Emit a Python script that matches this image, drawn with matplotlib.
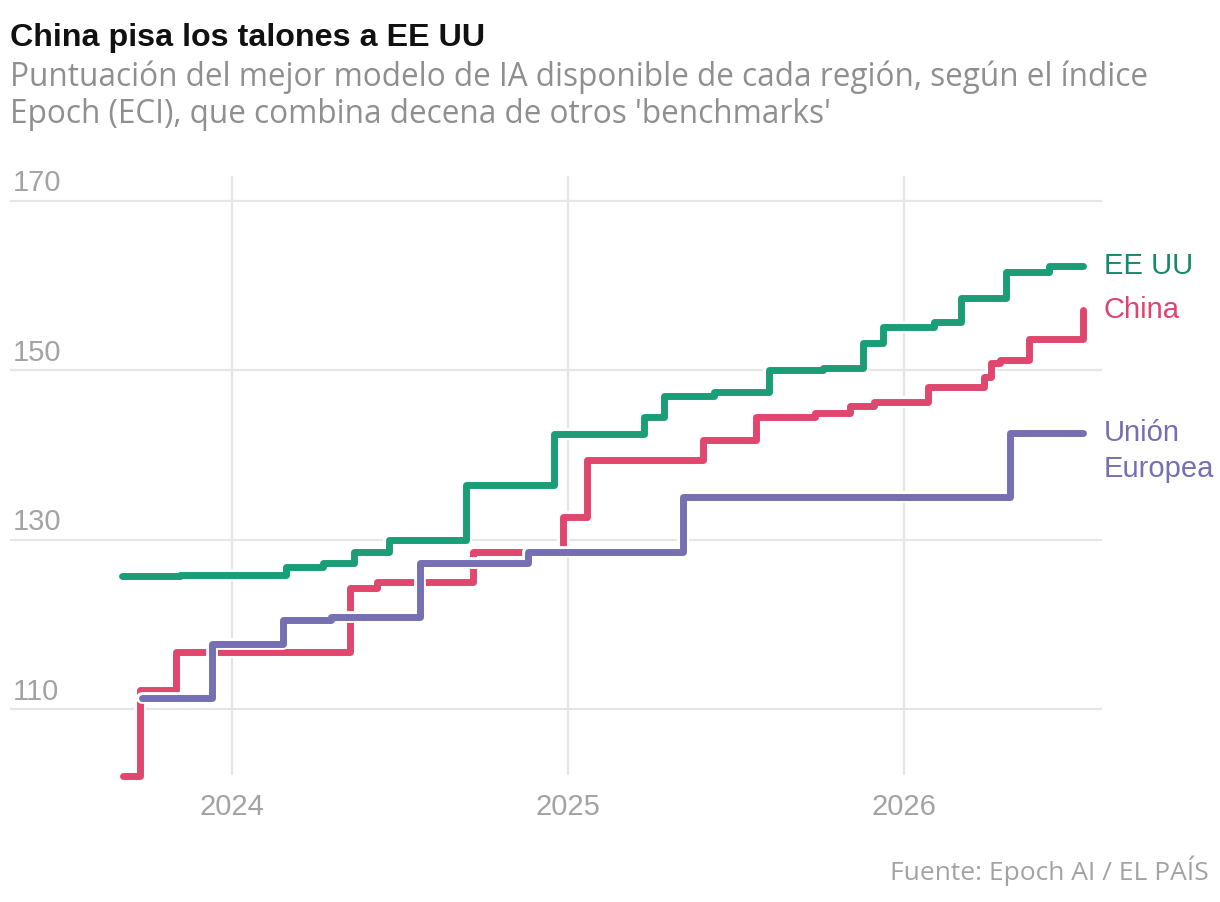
import matplotlib
matplotlib.use('Agg')
import matplotlib.pyplot as plt
import matplotlib.patheffects as pe
import pandas as pd

# ---- data ----
us_dates = ['2023-09-03', '2023-11-05', '2024-02-28', '2024-04-09', '2024-05-13',
            '2024-06-20', '2024-09-11', '2024-12-16', '2025-03-24', '2025-04-15',
            '2025-06-09', '2025-08-07', '2025-10-05', '2025-11-18', '2025-12-10',
            '2026-02-03', '2026-03-04', '2026-04-22', '2026-06-08', '2026-07-15']
us_eci = [125.8, 125.9, 126.8, 127.3, 128.6, 130.0, 136.5, 142.5, 144.5, 147.0,
          147.5, 150.0, 150.3, 153.2, 155.1, 155.7, 158.6, 161.6, 162.3, 162.3]

cn_dates = ['2023-09-04', '2023-09-23', '2023-11-01', '2024-05-08', '2024-06-07',
            '2024-09-19', '2024-12-26', '2025-01-21', '2025-05-28', '2025-07-24',
            '2025-09-27', '2025-11-04', '2025-11-30', '2026-01-28', '2026-03-29',
            '2026-04-06', '2026-04-16', '2026-05-17', '2026-07-15']
cn_eci = [102.1, 112.3, 116.8, 124.3, 125.0, 128.6, 132.7, 139.4, 141.8, 144.5,
          145.0, 145.8, 146.3, 148.1, 149.2, 150.9, 151.2, 153.7, 157.1]

eu_dates = ['2023-09-25', '2023-12-10', '2024-02-25', '2024-04-17', '2024-07-23',
            '2024-11-18', '2025-05-06', '2026-04-27', '2026-07-15']
eu_eci = [111.4, 117.7, 120.6, 120.9, 127.3, 128.6, 135.1, 142.6, 142.6]

y_ticks = [110, 130, 150, 170]
x_years = [2024, 2025, 2026]

series = [
    (['EE UU'], us_dates, us_eci, '#1b9e77', '#15896a'),
    (['China'], cn_dates, cn_eci, '#e0476f', '#de4470'),
    (['Unión', 'Europea'], eu_dates, eu_eci, '#7670b3', '#7670b3'),
]

plt.rcParams['font.family'] = ['Liberation Sans', 'DejaVu Sans']
body_font = ['Open Sans', 'Liberation Sans', 'DejaVu Sans']

W, H = 1220, 902
fig = plt.figure(figsize=(W / 100, H / 100), dpi=100)
fig.patch.set_facecolor('white')

def px(x, y):
    return x / W, 1 - y / H

ax = fig.add_axes([10 / W, (H - 775) / H, (1102 - 10) / W, (775 - 176) / H])
ax.set_xlim(pd.Timestamp('2023-05-04'), pd.Timestamp('2026-08-05'))
ax.set_ylim(102.27, 172.95)
for s in ax.spines.values():
    s.set_visible(False)

grid_c = '#e6e6e6'
tick_c = '#a3a3a3'
for v in y_ticks:
    ax.axhline(v, color=grid_c, lw=1.6, zorder=0)
    ax.annotate(str(v), xy=(0, v), xycoords=('axes fraction', 'data'),
                xytext=(2, 7), textcoords='offset points', ha='left', va='baseline',
                fontsize=21, color=tick_c)
year_pos = [pd.Timestamp(f'{y}-01-01') for y in x_years]
for d in year_pos:
    ax.axvline(d, color=grid_c, lw=1.6, zorder=0)
ax.set_yticks([])
ax.set_xticks(year_pos)
ax.set_xticklabels([str(y) for y in x_years], fontsize=21, color=tick_c)
ax.tick_params(axis='x', length=0, pad=13)

for z, (lines, dates, vals, col, lab_col) in enumerate(series):
    d = pd.to_datetime(dates)
    ax.step(d, vals, where='post', color=col, lw=5, solid_capstyle='round',
            solid_joinstyle='round', zorder=3 + z, clip_on=False,
            path_effects=[pe.Stroke(linewidth=8.5, foreground='white'), pe.Normal()])
    # label sits on the end value, extra lines go underneath
    for i, line in enumerate(lines):
        ax.annotate(line, xy=(d[-1], vals[-1]), xytext=(15, -25.5 * i),
                    textcoords='offset points', ha='left', va='center',
                    fontsize=21, color=lab_col)

fig.text(*px(10, 46), 'China pisa los talones a EE UU', fontsize=23.2, fontweight='bold',
         color='#111111', ha='left', va='baseline')
fig.text(*px(10, 86), "Puntuación del mejor modelo de IA disponible de cada región, según el índice",
         fontsize=22.7, color='#8f8f8f', ha='left', va='baseline', family=body_font)
fig.text(*px(10, 123), "Epoch (ECI), que combina decena de otros 'benchmarks'",
         fontsize=22.7, color='#8f8f8f', ha='left', va='baseline', family=body_font)
fig.text(*px(1209, 880), 'Fuente: Epoch AI / EL PAÍS', fontsize=19, color='#a3a3a3',
         ha='right', va='baseline', family=body_font)

fig.savefig('out.png', dpi=100, facecolor='white')
